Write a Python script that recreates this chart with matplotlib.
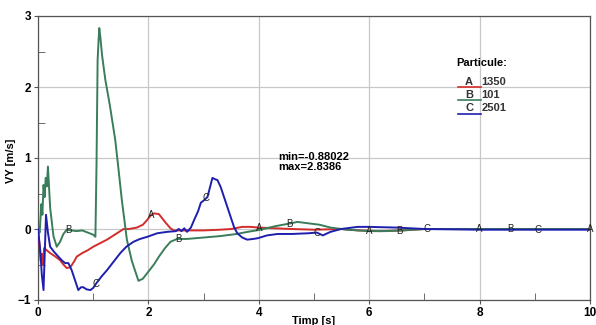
import matplotlib
matplotlib.use('Agg')
import matplotlib.pyplot as plt
import numpy as np

plt.rcParams['font.family'] = ['Liberation Sans', 'DejaVu Sans']

# VY [m/s] for three particles
t_a = [0, 0.03, 0.05, 0.07, 0.09, 0.11, 0.16, 0.22, 0.3, 0.4, 0.46, 0.52, 0.58, 0.61, 0.66, 0.7, 0.8, 0.9,
       1.0, 1.1, 1.2, 1.25, 1.35, 1.43, 1.55, 1.65, 1.79, 1.9, 1.98, 2.05, 2.1, 2.19, 2.3, 2.4, 2.46, 2.7,
       3.0, 3.3, 3.5, 3.7, 3.85, 4.0, 4.3, 4.6, 5.0, 5.5, 5.8, 6.2, 6.6, 7.0, 8.0, 10.0]
vy_a = [0, -0.25, -0.45, -0.35, -0.5, -0.27, -0.3, -0.34, -0.38, -0.44, -0.5, -0.55, -0.54, -0.51, -0.45, -0.39, -0.34, -0.3,
        -0.25, -0.21, -0.17, -0.15, -0.1, -0.06, 0.0, 0.0, 0.02, 0.06, 0.13, 0.2, 0.22, 0.21, 0.1, 0.01, -0.02, -0.02,
        -0.02, -0.01, 0.0, 0.03, 0.03, 0.02, 0.01, 0.0, -0.01, 0.0, -0.02, -0.03, -0.02, 0.0, 0.0, 0.0]

t_b = [0, 0.03, 0.06, 0.08, 0.1, 0.12, 0.14, 0.16, 0.18, 0.22, 0.28, 0.34, 0.4, 0.46, 0.52, 0.6, 0.7, 0.8, 0.9,
       1.0, 1.04, 1.06, 1.08, 1.1, 1.11, 1.13, 1.16, 1.22, 1.3, 1.4, 1.45, 1.52, 1.61, 1.7, 1.82, 1.9, 1.98,
       2.1, 2.19, 2.3, 2.4, 2.52, 2.7, 3.0, 3.3, 3.6, 3.8, 4.03, 4.3, 4.58, 4.7, 4.9, 5.1, 5.3, 5.6, 6.0,
       6.3, 6.6, 7.0, 8.0, 9.0, 10.0]
vy_b = [0, -0.05, 0.35, 0.2, 0.62, 0.45, 0.72, 0.6, 0.88, 0.3, -0.1, -0.25, -0.18, -0.07, -0.01, -0.02, -0.03, -0.02, -0.05,
        -0.08, -0.11, 0.9, 2.38, 2.7, 2.83, 2.7, 2.45, 2.1, 1.75, 1.25, 0.9, 0.4, -0.15, -0.45, -0.73, -0.7, -0.62,
        -0.5, -0.39, -0.27, -0.18, -0.14, -0.14, -0.12, -0.1, -0.07, -0.04, -0.01, 0.04, 0.08, 0.1, 0.08, 0.06, 0.02, -0.01, -0.03,
        -0.03, -0.02, 0.0, 0.0, 0.0, 0.0]

t_c = [0, 0.04, 0.07, 0.1, 0.12, 0.145, 0.18, 0.22, 0.3, 0.37, 0.43, 0.49, 0.55, 0.61, 0.67, 0.73, 0.78, 0.82, 0.88,
       0.95, 1.0, 1.07, 1.15, 1.25, 1.37, 1.49, 1.6, 1.73, 1.85, 1.98, 2.16, 2.34, 2.5, 2.55, 2.6, 2.65, 2.7,
       2.77, 2.83, 2.9, 2.95, 3.0, 3.07, 3.12, 3.16, 3.21, 3.25, 3.31, 3.4, 3.49, 3.55, 3.61, 3.7, 3.79, 3.9,
       3.98, 4.15, 4.34, 4.6, 4.9, 5.05, 5.16, 5.3, 5.49, 5.79, 6.0, 6.5, 7.0, 8.0, 10.0]
vy_c = [0, -0.3, -0.65, -0.86, -0.4, 0.2, -0.05, -0.25, -0.33, -0.39, -0.44, -0.48, -0.48, -0.58, -0.72, -0.86, -0.82, -0.82, -0.85,
        -0.86, -0.83, -0.75, -0.67, -0.58, -0.46, -0.34, -0.25, -0.18, -0.14, -0.11, -0.06, -0.04, -0.03, 0.0, -0.03, 0.01, -0.04,
        0.02, 0.13, 0.25, 0.37, 0.4, 0.45, 0.6, 0.72, 0.7, 0.69, 0.59, 0.38, 0.17, 0.03, -0.06, -0.12, -0.15, -0.14,
        -0.13, -0.09, -0.07, -0.07, -0.06, -0.05, -0.09, -0.04, 0.0, 0.03, 0.03, 0.02, 0.0, -0.01, -0.01]

# curve letters every 2 s
mark_a = [2.05, 4.0, 6.0, 8.0, 10.0]
mark_b = [0.55, 2.55, 4.55, 6.55, 8.55]
mark_c = [1.05, 3.05, 5.05, 7.05, 9.05]

series = [
    ('A', '1350', t_a, vy_a, mark_a, '#d42b2b'),
    ('B', '101', t_b, vy_b, mark_b, '#3a7d5a'),
    ('C', '2501', t_c, vy_c, mark_c, '#1f1fae'),
]

fig = plt.figure(figsize=(5.96, 3.25), dpi=100)
ax = fig.add_axes([38/596, 25/325, 552/596, 284/325])

for letter, name, t, vy, marks, col in series:
    ax.plot(t, vy, color=col, lw=1.4, zorder=3)
    for m in marks:
        ax.text(m, np.interp(m, t, vy), letter, fontsize=7, ha='center', va='center',
                color='#222222', zorder=4, clip_on=False)

ax.set_xlim(0, 10)
ax.set_ylim(-1, 3)
ax.set_xticks([0, 2, 4, 6, 8, 10])
ax.set_yticks([-1, 0, 1, 2, 3])
ax.set_xticks([1, 3, 5, 7, 9], minor=True)
ax.set_yticks([-0.5, 0.5, 1.5, 2.5], minor=True)
ax.grid(True, which='major', color='#c8c8c8', lw=0.9, zorder=0)
ax.tick_params(which='major', direction='out', length=3, labelsize=8.5, pad=2, color='#555555')
ax.tick_params(which='minor', direction='in', length=5, color='#555555')
for lab in ax.get_xticklabels() + ax.get_yticklabels():
    lab.set_fontweight('bold')
for s in ax.spines.values():
    s.set_color('#555555')
    s.set_linewidth(0.9)

ax.set_xlabel('Timp [s]', fontsize=8, fontweight='bold', labelpad=-2)
ax.set_ylabel('VY [m/s]', fontsize=8, fontweight='bold', labelpad=-3)
ax.yaxis.set_label_coords(-0.04, 0.49)

ax.text(4.35, 1.08, 'min=-0.88022\nmax=2.8386', fontsize=8, fontweight='bold',
        va='top', ha='left', linespacing=1.0)

# legend box drawn as text + short underlines
ax.text(7.58, 2.34, 'Particule:', fontsize=8, fontweight='bold', ha='left', va='center')
for i, (letter, name, t, vy, marks, col) in enumerate(series):
    yy = 2.07 - i * 0.185
    ax.plot([7.6, 8.02], [yy - 0.075, yy - 0.075], color=col, lw=1.2)
    ax.text(7.81, yy, letter, fontsize=8, ha='center', va='center', fontweight='bold', color='#333333')
    ax.text(8.03, yy, name, fontsize=8, ha='left', va='center', fontweight='bold', color='#333333')

fig.savefig('out.png', dpi=100)
